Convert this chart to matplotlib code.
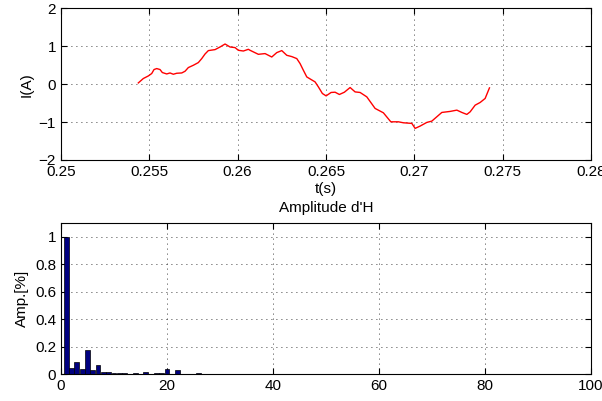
import numpy as np
import matplotlib.pyplot as plt

plt.rcParams['font.family'] = ['Liberation Sans', 'DejaVu Sans']
plt.rcParams['font.size'] = 11

# current waveform over one period
t = [0.254377, 0.254660, 0.254943, 0.255136, 0.255266, 0.255419, 0.255606,
     0.255736, 0.255985, 0.256172, 0.256359, 0.256551, 0.256835, 0.257022,
     0.257208, 0.257492, 0.257775, 0.257967, 0.258154, 0.258341, 0.258720,
     0.259003, 0.259287, 0.259570, 0.259853, 0.260040, 0.260323, 0.260606,
     0.260702, 0.261172, 0.261552, 0.261931, 0.262214, 0.262497, 0.262780,
     0.263063, 0.263347, 0.263533, 0.263720, 0.263913, 0.264156, 0.264383,
     0.264570, 0.264796, 0.265006, 0.265289, 0.265515, 0.265759, 0.266042,
     0.266365, 0.266648, 0.266931, 0.267310, 0.267780, 0.268250, 0.268669,
     0.269100, 0.269383, 0.269859, 0.270045, 0.270328, 0.270708, 0.270991,
     0.271557, 0.272027, 0.272407, 0.272690, 0.272973, 0.273160, 0.273443,
     0.273726, 0.274009, 0.274253]
I = [0.034, 0.150, 0.218, 0.282, 0.387, 0.413, 0.387,
     0.308, 0.271, 0.297, 0.263, 0.289, 0.297, 0.342,
     0.439, 0.500, 0.571, 0.676, 0.797, 0.887, 0.913,
     0.982, 1.061, 0.982, 0.966, 0.895, 0.876, 0.921,
     0.895, 0.789, 0.808, 0.718, 0.834, 0.887, 0.763,
     0.729, 0.676, 0.545, 0.368, 0.192, 0.124, 0.061,
     -0.071, -0.245, -0.308, -0.218, -0.211, -0.271, -0.211,
     -0.087, -0.203, -0.218, -0.334, -0.639, -0.755, -0.992,
     -0.992, -1.018, -1.034, -1.166, -1.105, -1.008, -0.974,
     -0.745, -0.718, -0.684, -0.745, -0.797, -0.729, -0.553,
     -0.482, -0.376, -0.097]

# harmonic spectrum (normalised to fundamental)
rank = np.arange(1, 101)
amp = np.zeros(100)
amp[:26] = [1.0, 0.041, 0.09, 0.039, 0.176, 0.032, 0.063, 0.015, 0.017, 0.007,
            0.004, 0.005, 0.002, 0.009, 0.002, 0.014, 0.001, 0.004, 0.007, 0.037,
            0.002, 0.029, 0.001, 0.003, 0.002, 0.007]
amp[36] = 0.002
amp[65] = 0.003

fig = plt.figure(figsize=(6.02, 4.01), dpi=100)

ax1 = fig.add_axes([0.1013, 0.601, 0.8804, 0.378])
ax1.plot(t, I, color='red', linewidth=1.0)
ax1.set_xlim(0.25, 0.28)
ax1.set_ylim(-2, 2)
ax1.set_xticks([0.25, 0.255, 0.26, 0.265, 0.27, 0.275, 0.28])
ax1.set_xticklabels(['0.25', '0.255', '0.26', '0.265', '0.27', '0.275', '0.28'])
ax1.set_yticks([-2, -1, 0, 1, 2])
ax1.set_xlabel('t(s)', labelpad=2)
ax1.set_ylabel('I(A)')

ax2 = fig.add_axes([0.1013, 0.0673, 0.8804, 0.3766])
ax2.bar(rank, amp, width=0.9, color='#000080', edgecolor='black', linewidth=0.5)
ax2.set_xlim(0, 100)
ax2.set_ylim(0, 1.1)
ax2.set_xticks([0, 20, 40, 60, 80, 100])
ax2.set_yticks([0, 0.2, 0.4, 0.6, 0.8, 1])
ax2.set_yticklabels(['0', '0.2', '0.4', '0.6', '0.8', '1'])
ax2.set_ylabel('Amp.[%]')
ax2.set_title("Amplitude d'H", fontsize=11, pad=8)

for ax in (ax1, ax2):
    ax.grid(True, linestyle=(0, (1, 5)), color='black', linewidth=0.6)
    ax.set_axisbelow(True)
    ax.tick_params(direction='in', top=True, right=True, length=4, width=0.8)
    for s in ax.spines.values():
        s.set_linewidth(0.8)

fig.savefig('out.png', dpi=100)
